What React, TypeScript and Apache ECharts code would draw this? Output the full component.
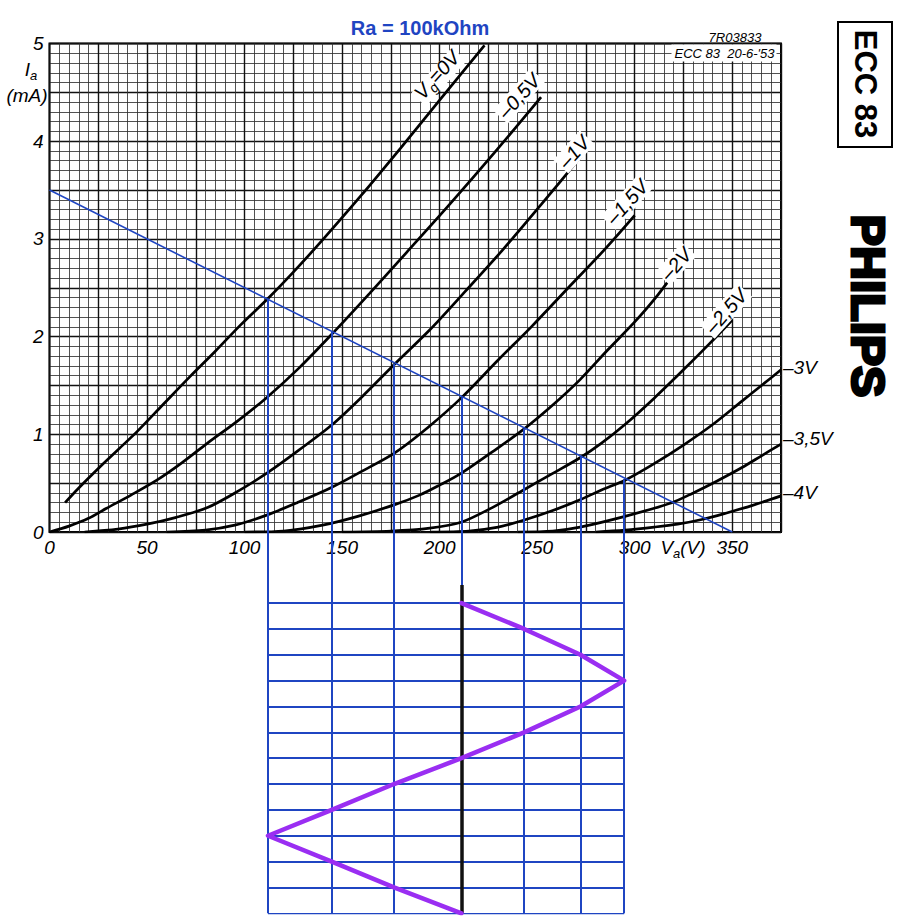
import React, { useEffect, useRef } from 'react';
import * as echarts from 'echarts';

// Anode characteristics Ia (mA) vs Va (V) for each grid voltage
const vg0 = [[8,0.30],[15,0.45],[25,0.65],[35,0.84],[45,1.03],[58,1.30],[72,1.59],[85,1.85],[98,2.12],[112,2.39],[125,2.66],[140,2.99],[160,3.45],[180,3.93],[200,4.42],[223,4.98]];
const vgM05 = [[0,0],[10,0.06],[20,0.14],[29,0.24],[42,0.38],[55,0.53],[68,0.71],[81,0.91],[96,1.13],[111,1.37],[128,1.68],[145,2.03],[164,2.44],[183,2.86],[205,3.35],[228,3.88],[252,4.45]];
const vgM1 = [[18,0],[35,0.03],[50,0.08],[65,0.15],[81,0.25],[96,0.41],[112,0.61],[128,0.84],[145,1.1],[160,1.38],[177,1.72],[195,2.07],[213,2.46],[232,2.88],[252,3.35],[274,3.88]];
const vgM15 = [[60,0],[80,0.02],[95,0.07],[111,0.17],[127,0.3],[144,0.45],[160,0.62],[177,0.81],[194,1.07],[211,1.37],[230,1.76],[247,2.1],[265,2.48],[285,2.9],[300,3.24]];
const vgM2 = [[100,0],[120,0.01],[140,0.07],[158,0.16],[177,0.28],[190,0.38],[200,0.48],[211,0.6],[227,0.82],[243,1.05],[258,1.3],[272,1.56],[286,1.86],[300,2.15],[312,2.43],[325,2.78]];
const vgM25 = [[150,0],[175,0.01],[195,0.04],[211,0.1],[227,0.25],[243,0.43],[258,0.6],[272,0.76],[283,0.91],[295,1.1],[310,1.37],[325,1.66],[338,1.92],[350,2.17]];
const vgM3 = [[195,0],[215,0.01],[230,0.05],[243,0.12],[258,0.22],[272,0.33],[283,0.43],[295,0.53],[310,0.7],[325,0.89],[340,1.1],[355,1.34],[365,1.5],[375,1.66]];
const vgM35 = [[240,0],[258,0.01],[272,0.05],[295,0.16],[319,0.3],[330,0.4],[342,0.52],[355,0.66],[365,0.78],[375,0.9]];
const vgM4 = [[280,0],[295,0.02],[310,0.05],[322,0.08],[335,0.13],[348,0.2],[360,0.27],[375,0.37]];

const curves = [vg0, vgM05, vgM1, vgM15, vgM2, vgM25, vgM3, vgM35, vgM4];

// Load line for Ra = 100 kOhm
const loadLine = [[0, 3.5], [350, 0]];
// Operating points on the load line (Va, Ia)
const opVa = [112, 144.7, 176.6, 211.2, 243.3, 272.2, 294.6];
const opIa = [2.39, 2.05, 1.72, 1.38, 1.06, 0.77, 0.54];
const quiescentVa = 211.2;
// Output waveform: plate voltage per time row
const waveVa = [211.2, 243.3, 272.2, 294.6, 272.2, 243.3, 211.2, 176.6, 144.7, 112, 144.7, 176.6, 211.2];
const waveRows = [0, 1, 2, 3, 4, 5, 6, 7, 8, 9, 10, 11, 12];

const xTickLabels = [0, 50, 100, 150, 200, 250, 300, 350];
const yTickLabels = [0, 1, 2, 3, 4, 5];

const FONT = '"Liberation Sans", Arial, sans-serif';
const BLUE = '#1f45c2';

export default function App() {
  const ref = useRef<HTMLDivElement>(null);
  useEffect(() => {
    if (!ref.current) return;
    const chart = echarts.init(ref.current, null, { renderer: 'svg' });

    const curveSeries = curves.map((c) => ({
      type: 'line',
      xAxisIndex: 0,
      yAxisIndex: 0,
      data: c,
      smooth: 0.3,
      showSymbol: false,
      symbol: 'none',
      lineStyle: { color: '#000', width: 2.7 },
      z: 3,
      silent: true,
    }));

    const dropLinesTop = opVa.map((v, i) => ({ coords: [[v, opIa[i]], [v, 0]] }));
    const dropLinesBottom = opVa.map((v) => ({ coords: [[v, -2.75], [v, 12]] }));
    const rowLines = waveRows.map((r) => ({ coords: [[opVa[0], r], [opVa[opVa.length - 1], r]] }));

    const italic = (size: number) => ({ fontStyle: 'italic', fontSize: size, fontFamily: FONT, fill: '#000' });

    const curveLabel = (x: number, y: number, text: string, rich?: any) => ({
      type: 'text',
      x, y,
      rotation: 0.84,
      z: 20,
      style: {
        text,
        ...italic(20),
        align: 'center',
        verticalAlign: 'middle',
        backgroundColor: '#fff',
        padding: [0, 2, 0, 2],
        rich,
      },
    });

    const subRich = (size: number) => ({
      a: { fontStyle: 'italic', fontSize: size, fontFamily: FONT, color: '#000', lineHeight: size, padding: [0, 0, 6, 0] },
      b: { fontStyle: 'italic', fontSize: Math.round(size * 0.68), fontFamily: FONT, color: '#000', lineHeight: Math.round(size * 0.68), verticalAlign: 'bottom' },
    });

    chart.setOption({
      animation: false,
      backgroundColor: '#fff',
      grid: [
        { left: 49.5, top: 43.5, width: 731.5, height: 488.5, show: true, borderColor: '#000', borderWidth: 2, backgroundColor: 'transparent' },
        { left: 49.5, top: 532, width: 731.5, height: 381.3, show: false },
      ],
      xAxis: [
        {
          gridIndex: 0, type: 'value', min: 0, max: 375, interval: 25,
          axisLine: { show: false }, axisTick: { show: false },
          axisLabel: {
            formatter: (v: number) => (xTickLabels.includes(v) ? String(v) : ''),
            fontStyle: 'italic', fontSize: 19, fontFamily: FONT, color: '#000', margin: 6,
          },
          splitLine: { show: true, lineStyle: { color: '#111', width: 1.4 } },
          minorTick: { show: false, splitNumber: 5 },
          minorSplitLine: { show: true, lineStyle: { color: '#333', width: 0.85 } },
        },
        { gridIndex: 1, type: 'value', min: 0, max: 375, show: false },
      ],
      yAxis: [
        {
          gridIndex: 0, type: 'value', min: 0, max: 5, interval: 0.5,
          axisLine: { show: false }, axisTick: { show: false },
          axisLabel: {
            formatter: (v: number) => (yTickLabels.includes(v) ? String(v) : ''),
            fontStyle: 'italic', fontSize: 19, fontFamily: FONT, color: '#000', margin: 6,
          },
          splitLine: { show: true, lineStyle: { color: '#111', width: 1.4 } },
          minorTick: { show: false, splitNumber: 5 },
          minorSplitLine: { show: true, lineStyle: { color: '#333', width: 0.85 } },
        },
        { gridIndex: 1, type: 'value', min: -2.75, max: 12, inverse: true, show: false },
      ],
      series: [
        ...curveSeries,
        {
          type: 'line', xAxisIndex: 0, yAxisIndex: 0, data: loadLine, symbol: 'none',
          lineStyle: { color: BLUE, width: 1.6 }, z: 4, silent: true,
        },
        {
          type: 'lines', coordinateSystem: 'cartesian2d', xAxisIndex: 0, yAxisIndex: 0,
          data: dropLinesTop, lineStyle: { color: BLUE, width: 2, opacity: 1 }, z: 5, silent: true,
        },
        {
          type: 'lines', coordinateSystem: 'cartesian2d', xAxisIndex: 1, yAxisIndex: 1,
          data: dropLinesBottom, lineStyle: { color: BLUE, width: 2, opacity: 1 }, z: 5, silent: true,
        },
        {
          type: 'lines', coordinateSystem: 'cartesian2d', xAxisIndex: 1, yAxisIndex: 1,
          data: rowLines, lineStyle: { color: BLUE, width: 2, opacity: 1 }, z: 5, silent: true,
        },
        {
          type: 'lines', coordinateSystem: 'cartesian2d', xAxisIndex: 1, yAxisIndex: 1,
          data: [{ coords: [[quiescentVa, -0.7], [quiescentVa, 12]] }],
          lineStyle: { color: '#111', width: 3.5, opacity: 1 }, z: 6, silent: true,
        },
        {
          type: 'line', xAxisIndex: 1, yAxisIndex: 1,
          data: waveVa.map((v, i) => [v, waveRows[i]]),
          symbol: 'none', lineStyle: { color: '#9a2ef2', width: 4.5, join: 'round', cap: 'round' }, z: 7, silent: true,
        },
      ],
      graphic: [
        { type: 'text', x: 420, y: 28, z: 20, style: { text: 'Ra = 100kOhm', fontSize: 20, fontWeight: 'bold', fontFamily: FONT, fill: BLUE, align: 'center', verticalAlign: 'middle' } },
        { type: 'text', x: 31, y: 72, z: 20, style: { text: '{a|I}{b|a}', rich: subRich(19), align: 'center', verticalAlign: 'middle' } },
        { type: 'text', x: 27, y: 95, z: 20, style: { text: '(mA)', ...italic(19), align: 'center', verticalAlign: 'middle' } },
        { type: 'text', x: 683, y: 550, z: 20, style: { text: '{a|V}{b|a}{a|(V)}', rich: subRich(19), align: 'center', verticalAlign: 'middle' } },
        { type: 'text', x: 735, y: 37, z: 20, style: { text: '7R03833', ...italic(13), align: 'center', verticalAlign: 'middle' } },
        { type: 'text', x: 724, y: 53, z: 20, style: { text: "ECC 83  20-6-'53", ...italic(13), align: 'center', verticalAlign: 'middle', backgroundColor: '#fff', padding: [2, 2, 2, 3] } },
        { type: 'rect', z: 20, shape: { x: 838, y: 22, width: 54, height: 125 }, style: { fill: '#fff', stroke: '#000', lineWidth: 2 } },
        { type: 'text', x: 865, y: 84, rotation: -Math.PI / 2, z: 21, style: { text: 'ECC 83', fontSize: 31, fontWeight: 'bold', fontFamily: FONT, fill: '#000', align: 'center', verticalAlign: 'middle' } },
        { type: 'text', x: 868, y: 306, rotation: -Math.PI / 2, z: 21, style: { text: 'PHILIPS', fontSize: 47, fontWeight: 'bold', fontFamily: FONT, fill: '#000', stroke: '#000', lineWidth: 3, align: 'center', verticalAlign: 'middle' } },
        curveLabel(439, 77, '{a|V}{b|g}{a|=0V}', subRich(20)),
        curveLabel(519, 96, '\u20130,5V'),
        curveLabel(574, 152, '\u20131V'),
        curveLabel(627, 202, '\u20131,5V'),
        curveLabel(676, 264, '\u20132V'),
        curveLabel(726, 311, '\u20132,5V'),
        { type: 'text', x: 783, y: 367, z: 20, style: { text: '\u20133V', ...italic(19), align: 'left', verticalAlign: 'middle' } },
        { type: 'text', x: 783, y: 438, z: 20, style: { text: '\u20133,5V', ...italic(19), align: 'left', verticalAlign: 'middle' } },
        { type: 'text', x: 783, y: 492, z: 20, style: { text: '\u20134V', ...italic(19), align: 'left', verticalAlign: 'middle' } },
      ],
    });
    return () => chart.dispose();
  }, []);
  return <div ref={ref} style={{ position: 'fixed', left: 0, top: 0, width: 900, height: 924 }} />;
}
